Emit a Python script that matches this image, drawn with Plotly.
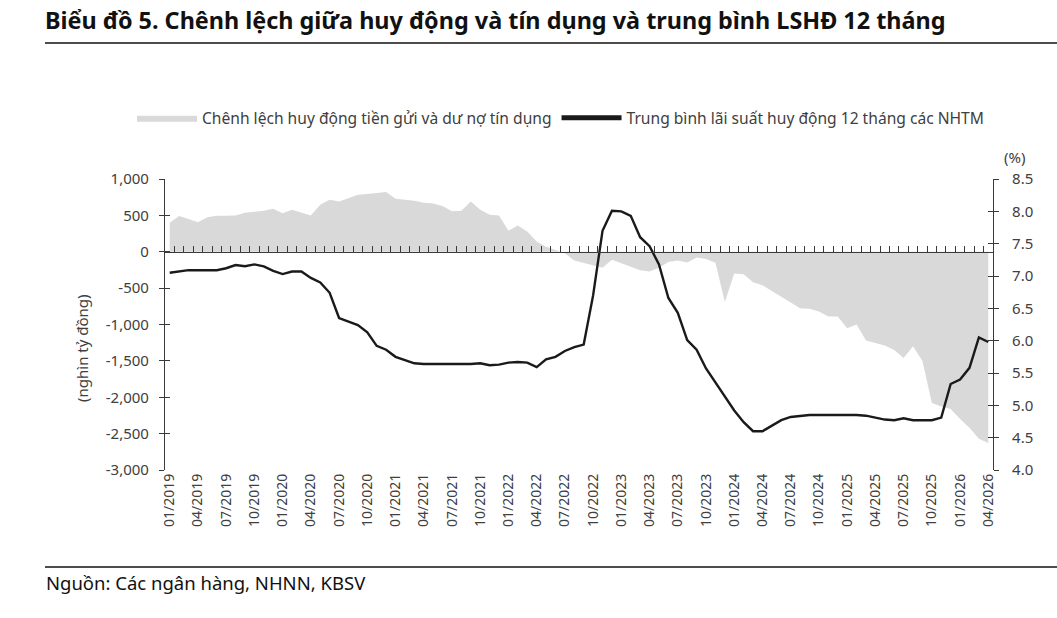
import plotly.graph_objects as go

# ---------------- data ----------------
months = [f"{m:02d}/{y}" for y in range(2019, 2027) for m in range(1, 13)][:88]

gap_values = [
    400, 490, 450, 405, 475, 495, 495, 500, 535, 545,
    565, 590, 530, 577, 540, 500, 646, 715, 690, 740,
    785, 795, 805, 820, 730, 718, 700, 675, 662, 630,
    555, 564, 692, 577, 510, 499, 290, 362, 279, 142,
    70, 25, -20, -120, -150, -190, -220, -110, -160, -210,
    -255, -270, -220, -140, -120, -147, -80, -100, -150, -690,
    -300, -310, -420, -460, -540, -620, -700, -775, -785, -820,
    -890, -890, -1050, -1000, -1220, -1260, -1290, -1350, -1460, -1300,
    -1500, -2080, -2126, -2160, -2300, -2420, -2570, -2630,
]

rate_values = [
    7.05, 7.07, 7.09, 7.09, 7.09, 7.09, 7.12, 7.17, 7.15, 7.18,
    7.15, 7.08, 7.03, 7.07, 7.07, 6.97, 6.90, 6.74, 6.35, 6.29,
    6.24, 6.13, 5.92, 5.86, 5.75, 5.70, 5.65, 5.64, 5.64, 5.64,
    5.63, 5.63, 5.64, 5.65, 5.62, 5.63, 5.66, 5.67, 5.66, 5.59,
    5.71, 5.75, 5.84, 5.90, 5.94, 6.70, 7.70, 8.01, 8.00, 7.93,
    7.60, 7.46, 7.18, 6.66, 6.43, 6.01, 5.86, 5.57, 5.35, 5.14,
    4.92, 4.74, 4.60, 4.60, 4.68, 4.77, 4.82, 4.84, 4.85, 4.85,
    4.85, 4.86, 4.86, 4.85, 4.84, 4.81, 4.78, 4.77, 4.80, 4.77,
    4.77, 4.77, 4.81, 5.33, 5.40, 5.58, 6.05, 5.98,
]

x_tick_labels = months[::3]
left_tick_vals = [1000, 500, 0, -500, -1000, -1500, -2000, -2500, -3000]
left_tick_text = ["1,000", "500", "0", "-500", "-1,000", "-1,500", "-2,000", "-2,500", "-3,000"]
right_tick_vals = [8.5, 8.0, 7.5, 7.0, 6.5, 6.0, 5.5, 5.0, 4.5, 4.0]

series_gap_name = "Chênh lệch huy động tiền gửi và dư nợ tín dụng"
series_rate_name = "Trung bình lãi suất huy động 12 tháng các NHTM"
title_text = "Biểu đồ 5. Chênh lệch giữa huy động và tín dụng và trung bình LSHĐ 12 tháng"
source_text = "Nguồn: Các ngân hàng, NHNN, KBSV"

# ---------------- figure ----------------
FONT = "Noto Sans"
AX = "#3a3a3a"
TXT = "#404040"

fig = go.Figure()
fig.add_trace(go.Scatter(
    x=months, y=gap_values, name=series_gap_name, mode="lines",
    fill="tozeroy", fillcolor="#d9d9d9", line=dict(width=0, color="#d9d9d9"),
    yaxis="y", hoverinfo="skip",
))
fig.add_trace(go.Scatter(
    x=months, y=rate_values, name=series_rate_name, mode="lines",
    line=dict(width=2.4, color="#1a1a1a"), yaxis="y2",
))
# empty helper traces so that the decorative tick axes get drawn
fig.add_trace(go.Scatter(x=[], y=[], xaxis="x2", yaxis="y3", showlegend=False,
                         hoverinfo="skip", mode="lines"))
fig.add_trace(go.Scatter(x=[], y=[], xaxis="x", yaxis="y4", showlegend=False,
                         hoverinfo="skip", mode="lines"))

W, H = 1057, 618
L, R, T, B = 165, 64, 179, 148
pw = W - L - R
ph = H - T - B

def px_x(x):
    return (x - L) / pw

def px_y(y):
    return (H - B - y) / ph

fig.update_layout(
    width=W, height=H,
    margin=dict(l=L, r=R, t=T, b=B, pad=0),
    paper_bgcolor="white", plot_bgcolor="white",
    font=dict(family=FONT, color=TXT, size=15),
    showlegend=True,
    legend=dict(
        orientation="h", x=px_x(132), y=px_y(118), xanchor="left", yanchor="middle",
        font=dict(size=15.6, color=TXT), itemwidth=60, bgcolor="rgba(0,0,0,0)",
        tracegroupgap=0, itemsizing="constant",
    ),
    title=dict(
        text=title_text, x=45 / W, xanchor="left", y=1 - 21 / H, yanchor="middle",
        xref="container", yref="container",
        font=dict(family=FONT, size=23.4, color="#111111", weight="bold"),
    ),
    xaxis=dict(
        type="category", categoryorder="array", categoryarray=months,
        range=[-0.5, len(months) - 0.5],
        tickmode="array", tickvals=x_tick_labels, ticktext=x_tick_labels,
        tickangle=-90, tickfont=dict(size=14, color=TXT),
        showline=False, showgrid=False, zeroline=False, ticks="",
        anchor="y",
    ),
    xaxis2=dict(
        overlaying="x", anchor="free", position=(0 - (-3000)) / 4000, side="bottom",
        range=[-0.5, len(months) - 0.5], tick0=0.5, dtick=1,
        ticks="inside", ticklen=6, tickcolor=AX, tickwidth=1,
        showline=True, linecolor=AX, linewidth=1.2,
        showticklabels=False, showgrid=False, zeroline=False,
    ),
    yaxis=dict(
        range=[-3000, 1000], tickmode="array", tickvals=left_tick_vals, ticktext=left_tick_text,
        ticks="outside", ticklen=5, tickcolor=AX, showline=True, linecolor=AX, linewidth=1.2,
        showgrid=False, zeroline=False, tickfont=dict(size=15, color=TXT), anchor="x",
        ticklabelstandoff=7,
    ),
    yaxis3=dict(
        overlaying="y", side="left", anchor="x2",
        range=[-3000, 1000], tickmode="array", tickvals=left_tick_vals,
        ticks="inside", ticklen=5, tickcolor=AX, showline=False,
        showticklabels=False, showgrid=False, zeroline=False,
    ),
    yaxis2=dict(
        overlaying="y", side="right", anchor="x",
        range=[4.0, 8.5], tickmode="array", tickvals=right_tick_vals, tickformat=".1f",
        ticks="outside", ticklen=5, tickcolor=AX, showline=True, linecolor=AX, linewidth=1.2,
        showgrid=False, zeroline=False, tickfont=dict(size=15, color=TXT),
        ticklabelstandoff=10,
    ),
    yaxis4=dict(
        overlaying="y", side="right", anchor="x",
        range=[4.0, 8.5], tickmode="array", tickvals=right_tick_vals,
        ticks="inside", ticklen=5, tickcolor=AX, showline=False,
        showticklabels=False, showgrid=False, zeroline=False,
    ),
)

fig.add_annotation(
    text="(%)", xref="paper", yref="paper", x=px_x(1015), y=px_y(157),
    showarrow=False, font=dict(size=15, color=TXT), xanchor="center", yanchor="middle",
)
fig.add_annotation(
    text="(nghìn tỷ đồng)", xref="paper", yref="paper", x=px_x(82), y=px_y(348),
    textangle=-90, showarrow=False, font=dict(size=15, color=TXT),
    xanchor="center", yanchor="middle",
)
fig.add_annotation(
    text=source_text, xref="paper", yref="paper", x=px_x(44), y=px_y(582),
    showarrow=False, font=dict(size=18.5, color="#111111"), xanchor="left", yanchor="middle",
)
# separator rules
fig.add_shape(type="line", xref="paper", yref="paper", x0=px_x(45), x1=px_x(1057),
              y0=px_y(43), y1=px_y(43), line=dict(color="#111111", width=1.5))
fig.add_shape(type="line", xref="paper", yref="paper", x0=px_x(45), x1=px_x(1057),
              y0=px_y(567), y1=px_y(567), line=dict(color="#111111", width=1.5))

fig.write_html("out.html")
